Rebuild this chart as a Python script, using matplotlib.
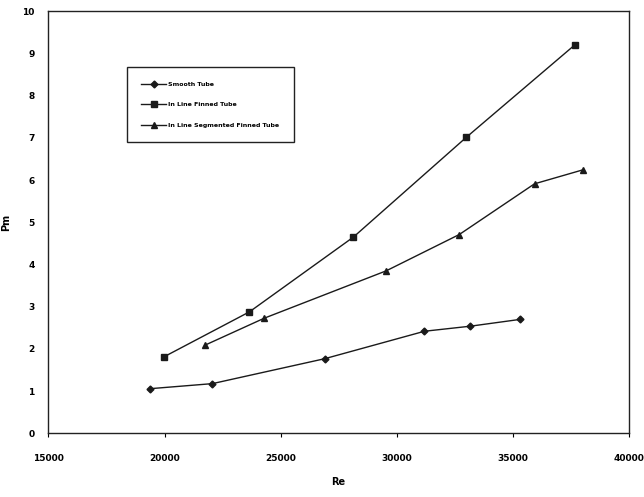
import matplotlib
matplotlib.use("Agg")
import matplotlib.pyplot as plt

# Data
re_smooth = [19370, 22060, 26900, 31200, 33180, 35310]
pm_smooth = [1.06, 1.18, 1.77, 2.42, 2.54, 2.70]

re_finned = [19960, 23660, 28140, 33000, 37680]
pm_finned = [1.81, 2.88, 4.65, 7.01, 9.20]

re_seg = [21740, 24300, 29550, 32700, 35940, 38020]
pm_seg = [2.09, 2.73, 3.85, 4.71, 5.91, 6.24]

labels = ["Smooth Tube", "In Line Finned Tube", "In Line Segmented Finned Tube"]
x_ticks = [15000, 20000, 25000, 30000, 35000, 40000]
y_ticks = list(range(0, 11))

fig = plt.figure(figsize=(6.44, 4.97), dpi=100)
ax = fig.add_axes([0.0753, 0.1278, 0.901, 0.850])

col = "#1a1a1a"
ax.plot(re_smooth, pm_smooth, color=col, lw=1.0, marker="D", ms=3.5, label=labels[0])
ax.plot(re_finned, pm_finned, color=col, lw=1.0, marker="s", ms=4.5, label=labels[1])
ax.plot(re_seg, pm_seg, color=col, lw=1.0, marker="^", ms=4.5, label=labels[2])

ax.set_xlim(15000, 40000)
ax.set_ylim(0, 10)
ax.set_xticks(x_ticks)
ax.set_yticks(y_ticks)
ax.tick_params(axis="x", direction="out", length=3, width=0.8, pad=12, labelsize=6.5)
ax.tick_params(axis="y", length=0, pad=10, labelsize=6.5)
for lab in ax.get_xticklabels() + ax.get_yticklabels():
    lab.set_fontweight("bold")
for s in ax.spines.values():
    s.set_color("#222222")
    s.set_linewidth(1.0)

ax.set_xlabel("Re", fontsize=7, fontweight="bold", labelpad=10)
ax.set_ylabel("Pm", fontsize=7, fontweight="bold", labelpad=8)

leg = ax.legend(loc="upper left", bbox_to_anchor=(0.135, 0.867), borderaxespad=0,
                frameon=True, fancybox=False, edgecolor="#222222", framealpha=1,
                labelspacing=2.4, handlelength=4.0, borderpad=2.3, handletextpad=0.3,
                prop={"weight": "bold", "size": 4.5})
leg.get_frame().set_linewidth(1.0)

fig.savefig("out.png", dpi=100)
